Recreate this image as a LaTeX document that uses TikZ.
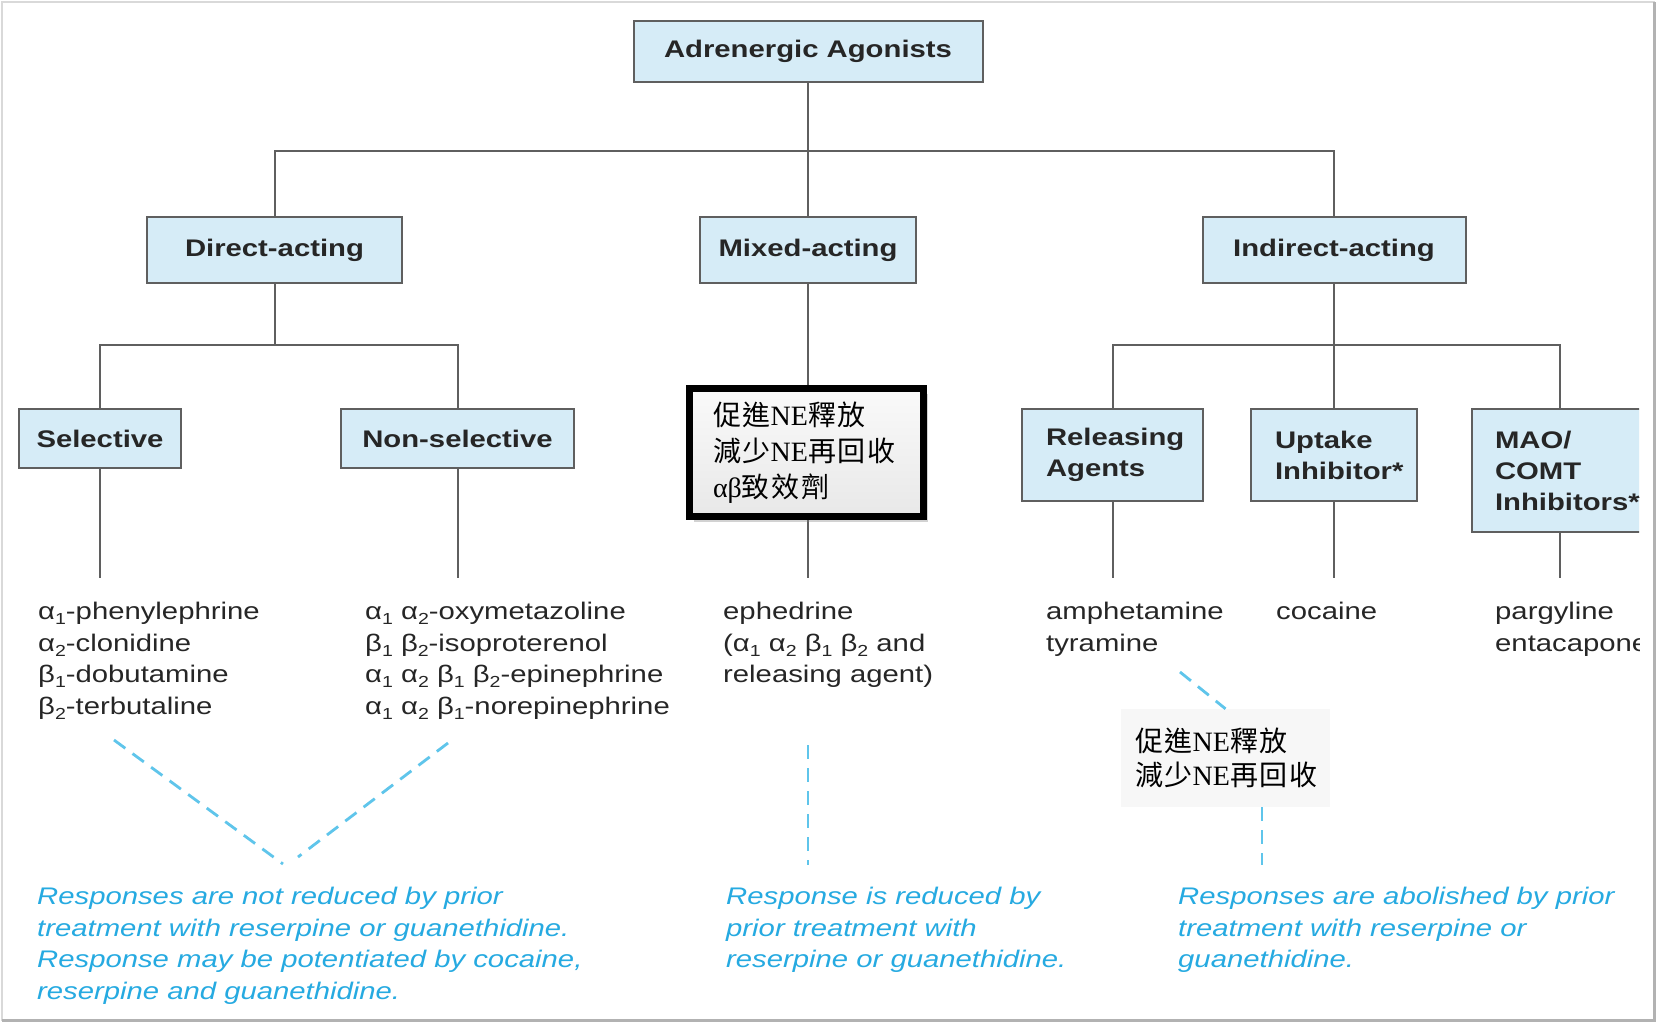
\documentclass[tikz,border=0pt]{standalone}
\usepackage{fontspec}
\setmainfont{Liberation Sans}[FakeStretch=1.22]
\newfontfamily\cjkfont{Noto Sans CJK TC}[LetterSpace=6]
\newfontfamily\zhserif{Liberation Serif}
\usepackage{xcolor}
\usepackage{tikz}
\usetikzlibrary{positioning,shadows}

\definecolor{boxblue}{RGB}{214,236,247}
\definecolor{linegray}{RGB}{95,95,95}
\definecolor{inkgray}{RGB}{38,38,38}
\definecolor{noteblue}{RGB}{38,170,225}
\definecolor{dashblue}{RGB}{95,197,235}

\newcommand{\subnum}[1]{\raisebox{-5pt}{\fontsize{16}{16}\selectfont #1}}
\newcommand{\al}[1]{α\subnum{#1}}
\newcommand{\be}[1]{β\subnum{#1}}
\newcommand{\zh}[1]{{\cjkfont #1}}

\begin{document}
\begin{tikzpicture}[
  x=1pt, y=-1pt,
  font=\fontsize{24}{31.5}\selectfont,
  catbox/.style={draw=linegray, line width=2pt, fill=boxblue, text=inkgray, inner sep=0pt,
    font=\fontsize{24}{31}\selectfont\bfseries},
  conn/.style={draw=linegray, line width=2pt},
  stem/.style={conn, shorten >=24pt},
  druglist/.style={anchor=north west, align=left, inner sep=0pt, text=inkgray},
  notetext/.style={anchor=north west, align=left, inner sep=0pt, text=noteblue,
    font=\fontsize{24}{31.5}\selectfont\itshape},
  dashline/.style={draw=dashblue, line width=2.8pt, dash pattern=on 14pt off 9pt},
  zhbox/.style={draw=black, line width=7pt, top color=gray!4, bottom color=gray!18,
    inner sep=0pt, align=left, font=\zhserif\fontsize{28}{36}\selectfont,
    drop shadow={shadow xshift=4pt, shadow yshift=-5pt, opacity=0.35}},
  zhnote/.style={fill=gray!6, inner sep=0pt, align=left,
    font=\zhserif\fontsize{28}{34}\selectfont}
]
  \useasboundingbox (0,0) rectangle (1657,1023);
  \fill[white] (0,0) rectangle (1657,1023);

  \begin{scope}
  \clip (0,0) rectangle (1639,1023);
  % class boxes
  \node[catbox, minimum width=349, minimum height=61] (agon) at (808,51.5) {Adrenergic Agonists};
  \node[catbox, minimum width=255, minimum height=66] (direct) at (274.5,250) {Direct-acting};
  \node[catbox, minimum width=216, minimum height=66] (mixed) at (808,250) {Mixed-acting};
  \node[catbox, minimum width=263, minimum height=66] (indirect) at (1334,250) {Indirect-acting};
  \node[catbox, minimum width=162, minimum height=59] (selective) at (100,438.5) {Selective};
  \node[catbox, minimum width=233, minimum height=59] (nonsel) at (457.5,438.5) {Non-selective};
  \node[catbox, minimum width=181, minimum height=92, text width=133, align=left] (releasing) at (1112.5,455) {Releasing\\Agents};
  \node[catbox, minimum width=166, minimum height=92, text width=118, align=left] (uptake) at (1334,455) {Uptake\\Inhibitor*};
  \node[catbox, minimum width=176, minimum height=123, text width=130, align=left] (mao) at (1560,470.5) {MAO/\\COMT\\Inhibitors*};

  % drug lists
  \node[druglist] (sellist) at (38,602) {\al1-phenylephrine\\\al2-clonidine\\\be1-dobutamine\\\be2-terbutaline};
  \node[druglist] (nonlist) at (365,602) {\al1 \al2-oxymetazoline\\\be1 \be2-isoproterenol\\\al1 \al2 \be1 \be2-epinephrine\\\al1 \al2 \be1-norepinephrine};
  \node[druglist] (ephlist) at (723,602) {ephedrine\\(\al1 \al2 \be1 \be2 and\\releasing agent)};
  \node[druglist] (amphlist) at (1046,602) {amphetamine\\tyramine};
  \node[druglist] (cocalist) at (1276,602) {cocaine};
  \node[druglist] (parglist) at (1495,602) {pargyline\\entacapone};

  % tree lines
  \coordinate (bar1) at (808,151);
  \coordinate (bar2) at (274.5,345);
  \coordinate (bar3) at (1334,345);
  \draw[conn] (agon.south) -- (bar1);
  \draw[conn] (direct.north) |- (bar1) -| (indirect.north);
  \draw[conn] (bar1) -- (mixed.north);
  \draw[conn] (direct.south) -- (bar2);
  \draw[conn] (selective.north) |- (bar2) -| (nonsel.north);
  \draw[conn] (indirect.south) -- (bar3);
  \draw[conn] (releasing.north) |- (bar3) -| (mao.north);
  \draw[conn] (bar3) -- (uptake.north);
  \draw[stem] (selective.south) -- (selective.south |- sellist.north);
  \draw[stem] (nonsel.south) -- (nonsel.south |- nonlist.north);
  \draw[stem] (mixed.south) -- (mixed.south |- ephlist.north);
  \draw[stem] (releasing.south) -- (releasing.south |- amphlist.north);
  \draw[stem] (uptake.south) -- (uptake.south |- cocalist.north);
  \draw[stem] (mao.south) -- (mao.south |- parglist.north);

  % mixed-acting remark
  \node[zhbox, minimum width=234, minimum height=128, text width=187] (zhmain) at (806.5,452.5)
    {\zh{促進}NE\zh{釋放}\\\zh{減少}NE\zh{再回收}\\αβ\zh{致效劑}};

  % responses
  \node[notetext] (note1) at (37,887) {Responses are not reduced by prior\\treatment with reserpine or guanethidine.\\Response may be potentiated by cocaine,\\reserpine and guanethidine.};
  \node[notetext] (note2) at (726,887) {Response is reduced by\\prior treatment with\\reserpine or guanethidine.};
  \node[notetext] (note3) at (1178,887) {Responses are abolished by prior\\treatment with reserpine or\\guanethidine.};

  \coordinate (vl) at (114,740);
  \coordinate (vtipl) at (283,864);
  \coordinate (vr) at (448,743);
  \coordinate (vtipr) at (298,857);
  \coordinate (mtop) at (808,745);
  \coordinate (mbot) at (808,865);
  \coordinate (rtop) at (1180,672);
  \coordinate (rbot) at (1262,865);
  \draw[dashline] (vl) -- (vtipl);
  \draw[dashline] (vr) -- (vtipr);
  \draw[dashline] (mtop) -- (mbot);

  % indirect-acting remark
  \node[zhnote, minimum width=209, minimum height=98, text width=181] (zhside) at (1225.5,758)
    {\zh{促進}NE\zh{釋放}\\\zh{減少}NE\zh{再回收}};
  \draw[dashline] (rtop) -- (zhside.north);
  \draw[dashline] (zhside.south -| rbot) -- (rbot);
  \end{scope}

  % frame
  \draw[gray!30, line width=2pt] (2,2) rectangle (1654,1020);
  \draw[gray!60, line width=3pt] (2,1020) -- (1654,1020) -- (1654,2);
\end{tikzpicture}
\end{document}
